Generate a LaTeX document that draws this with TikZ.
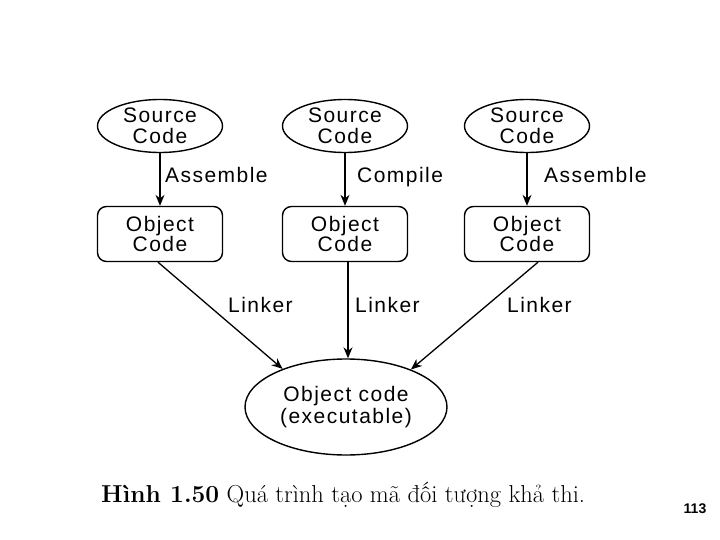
\documentclass[tikz,border=0pt]{standalone}
\usepackage{fontspec}
\setmainfont{Latin Modern Roman}
\newfontfamily\diagfont[LetterSpace=7]{Liberation Sans}
\newfontfamily\pagefont{Liberation Sans}
\usetikzlibrary{shapes.geometric,arrows.meta}
\begin{document}
\begin{tikzpicture}[x=1pt,y=-1pt,
  every node/.style={inner sep=0pt},
  dfont/.style={font=\diagfont\fontsize{21}{20.5}\selectfont},
  src/.style={draw,line width=1.4pt,ellipse,minimum width=125pt,minimum height=53pt,align=center,dfont},
  obj/.style={draw,line width=1.4pt,rounded corners=9pt,minimum width=125pt,minimum height=55pt,align=center,dfont},
  exe/.style={draw,line width=1.4pt,ellipse,minimum width=202pt,minimum height=96pt,align=center,font=\diagfont\fontsize{21}{22}\selectfont},
  lbl/.style={dfont,anchor=base west},
  conn/.style={line width=1.3pt,-{Stealth[length=11pt,width=9pt]}}]
\useasboundingbox[fill=white] (0,0) rectangle (720,540);
\node[src] (s1) at (160,126) {Source\\Code};
\node[src] (s2) at (345,126) {Source\\Code};
\node[src] (s3) at (527,126) {Source\\Code};
\node[obj] (o1) at (160,234) {Object\\Code};
\node[obj] (o2) at (345,234) {Object\\Code};
\node[obj] (o3) at (527,234) {Object\\Code};
\node[exe] (e) at (346,407) {Object code\\(executable)};
\draw[conn] (s1) -- (o1);
\draw[conn] (s2) -- (o2);
\draw[conn] (s3) -- (o3);
\node[lbl] (l1) at (165,182.5) {Assemble};
\node[lbl] (l2) at (357,182.5) {Compile};
\node[lbl] (l3) at (544,182.5) {Assemble};
\draw[conn] ([xshift=-2pt]o1.south) -- (e.149);
\draw[conn] ([xshift=3pt]o2.south) -- ([xshift=3pt]o2.south |- e.north);
\draw[conn] ([xshift=11pt]o3.south) -- (e.30);
\node[lbl] (k1) at (228,312) {Linker};
\node[lbl] (k2) at (355,312) {Linker};
\node[lbl] (k3) at (507,312) {Linker};
\node[anchor=base west,font=\fontsize{24.5}{24.5}\selectfont] (cap) at (101,502) {\textbf{Hình 1.50} Quá trình tạo mã đối tượng khả thi.};
\node[font=\pagefont\bfseries\fontsize{14}{14}\selectfont] (pg) at (695,509) {113};
\end{tikzpicture}
\end{document}
